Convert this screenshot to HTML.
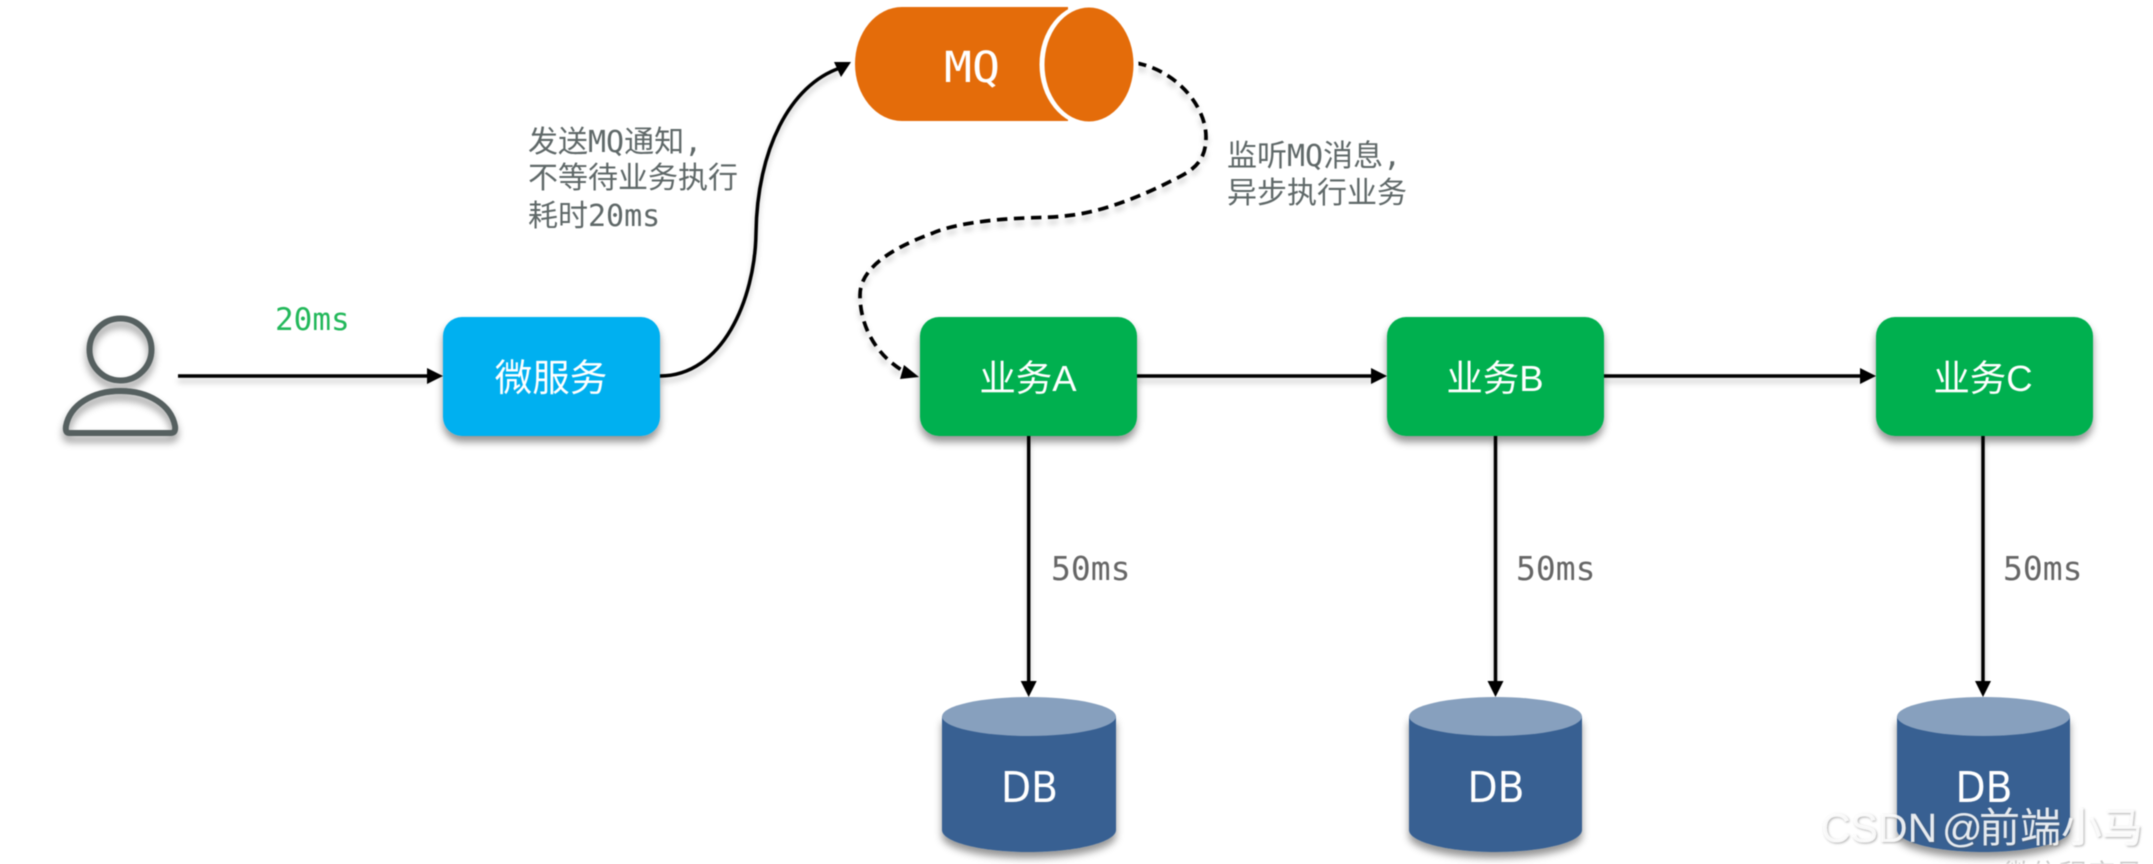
<!DOCTYPE html>
<html><head><meta charset="utf-8"><style>
html,body{margin:0;padding:0;background:#fff;width:2153px;height:864px;overflow:hidden}
svg{display:block;filter:blur(.6px)}
.m{font-family:"DejaVu Sans Mono","Liberation Mono",monospace}
.d{font-family:"DejaVu Sans","Liberation Sans",sans-serif}
.c{font-family:"Liberation Sans","WenQuanYi Zen Hei","Noto Sans CJK SC",sans-serif}
</style></head><body>
<svg width="2153" height="864" viewBox="0 0 2153 864" xmlns="http://www.w3.org/2000/svg">
<defs>
<filter id="s" x="-20%" y="-20%" width="140%" height="150%"><feDropShadow dx="0" dy="6" stdDeviation="4" flood-color="#000" flood-opacity=".42"/></filter>
<filter id="l" x="-20%" y="-20%" width="140%" height="150%"><feDropShadow dx="0" dy="5" stdDeviation="3" flood-color="#000" flood-opacity=".2"/></filter>
<filter id="w" x="-5%" y="-20%" width="110%" height="140%"><feDropShadow dx="1" dy="1" stdDeviation="1" flood-color="#555" flood-opacity=".55"/></filter>
</defs>
<rect width="2153" height="864" fill="#fff"/>
<g fill="none" stroke="#566060" stroke-width="6" filter="url(#s)">
<ellipse cx="120.500" cy="349.500" rx="31" ry="31"/>
<path d="M69,433 Q65,433 66,426 C70,405 92,391 120.500,391 C149,391 171,405 175,426 Q176,433 171,433 Z"/>
</g>
<g filter="url(#l)" stroke="#000" fill="none" stroke-width="3.500">
<path d="M178,376H430"/>
<path d="M1137,376H1374"/>
<path d="M1604,376H1863"/>
<path d="M1028.700,436V684"/>
<path d="M1495.500,436V684"/>
<path d="M1983,436V684"/>
<path d="M660,376C722,376 755,300 756,233C757,150 790,85 840,68"/>
<path stroke-dasharray="10.500 6.500" stroke-width="3.700" d="M1136,63C1175,70 1206,105 1206,137C1206,160 1195,170 1173,180C1150,192 1110,210 1073,215C1050,218 1045,217 1027,218C990,219 950,225 933,233C900,245 860,265 860,295C860,325 875,355 905,372"/>
</g>
<g fill="#000">
<polygon points="443,376 427,368 427,384"/>
<polygon points="1387,376 1371,368 1371,384"/>
<polygon points="1876,376 1860,368 1860,384"/>
<polygon points="1028.700,697 1020.700,681 1036.700,681"/>
<polygon points="1495.500,697 1487.500,681 1503.500,681"/>
<polygon points="1983,697 1975,681 1991,681"/>
<polygon points="851,62 834,62 841,77"/>
<polygon points="919,377 904,365 900,379"/>
</g>
<g filter="url(#s)">
<rect x="443" y="317" width="217" height="119" rx="19" fill="#00B0F0"/>
<rect x="920" y="317" width="217" height="119" rx="19" fill="#00B050"/>
<rect x="1387" y="317" width="217" height="119" rx="19" fill="#00B050"/>
<rect x="1876" y="317" width="217" height="119" rx="19" fill="#00B050"/>
</g>
<path d="M902,7H1068V121H902A47,57 0 0 1 902,7Z" fill="#E46C0A"/>
<ellipse cx="1089" cy="64.500" rx="49.500" ry="61" fill="#fff"/>
<ellipse cx="1089" cy="64.500" rx="44.500" ry="57" fill="#E46C0A"/>
<g fill="#376092" filter="url(#s)">
<path d="M942,716V830C942,842 981,852 1029,852C1077,852 1116,842 1116,830V716Z"/>
<path d="M1409,716V830C1409,842 1448,852 1495.500,852C1543,852 1582,842 1582,830V716Z"/>
<path d="M1897,716V830C1897,842 1936,852 1983.500,852C2031,852 2070,842 2070,830V716Z"/>
</g>
<g fill="#87A0BE">
<ellipse cx="1029" cy="716.500" rx="87" ry="19.500"/>
<ellipse cx="1495.500" cy="716.500" rx="86.500" ry="19.500"/>
<ellipse cx="1983.500" cy="716.500" rx="86.500" ry="19.500"/>
</g>
<g class="c" fill="#fff" text-anchor="middle" font-size="36.500">
<text x="551" y="391" font-size="37.500">微服务</text>
<text x="1028" y="391">业务A</text>
<text x="1495" y="391">业务B</text>
<text x="1983" y="391">业务C</text>
</g>
<g fill="#fff">
<text class="m" x="944" y="82" font-size="43" textLength="56" lengthAdjust="spacingAndGlyphs">MQ</text>
<g class="d" font-size="43">
<text x="1001" y="802" textLength="57" lengthAdjust="spacingAndGlyphs">DB</text>
<text x="1467.500" y="802" textLength="57" lengthAdjust="spacingAndGlyphs">DB</text>
<text x="1955.500" y="802" textLength="57" lengthAdjust="spacingAndGlyphs">DB</text>
</g>
</g>
<g class="m" font-size="31">
<text x="275" y="330" fill="#22B85A">20ms</text>
<text x="1051" y="580" font-size="33" fill="#666">50ms</text>
<text x="1516" y="580" font-size="33" fill="#666">50ms</text>
<text x="2003" y="580" font-size="33" fill="#666">50ms</text>
</g>
<g fill="#5f6868" font-size="30" style='font-family:"DejaVu Sans Mono","WenQuanYi Zen Hei","Noto Sans CJK SC",monospace'>
<text x="528" y="152">发送MQ通知,</text>
<text x="528" y="188">不等待业务执行</text>
<text x="528" y="226">耗时20ms</text>
<text x="1227" y="166">监听MQ消息,</text>
<text x="1227" y="203">异步执行业务</text>
</g>
<g class="c" filter="url(#w)" fill="#fff" fill-opacity=".85">
<text x="1821" y="842" font-size="41">CSDN</text>
<text x="1942" y="842" font-size="40">@</text>
<text x="1979" y="842" font-size="41">前端小马</text>
</g>
<text class="c" x="2003" y="884" font-size="28" fill="#ccc">微信程序员</text>
</svg>
</body></html>
